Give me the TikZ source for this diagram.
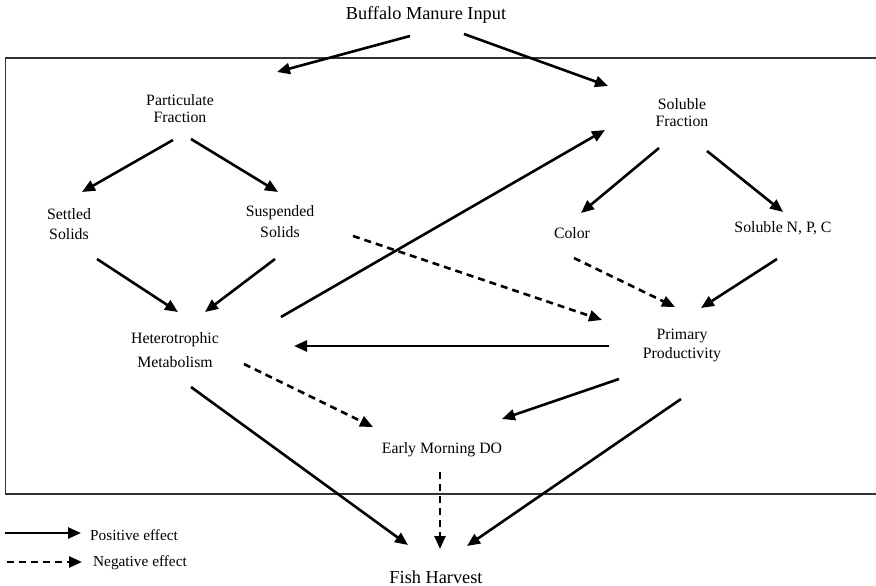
\documentclass[tikz,border=0pt]{standalone}
\usepackage{fontspec}
\setmainfont{Liberation Serif}
\usetikzlibrary{arrows.meta,calc}
\begin{document}
\begin{tikzpicture}[x=1pt,y=-1pt,
  lbl/.style={font=\fontsize{15.8}{17}\selectfont, align=center, inner sep=0pt},
  big/.style={font=\fontsize{18.3}{20}\selectfont, inner sep=0pt},
  posarrow/.style={line width=2.6pt, -{Triangle[length=13pt,width=11pt]}},
  negarrow/.style={posarrow, dash pattern=on 7pt off 5pt},
  frame/.style={draw=black!80, line width=1.3pt}]
\useasboundingbox (0,0) rectangle (876,586);
\fill[white] (0,0) rectangle (876,586);
% frame
\draw[frame] (877,58) -- (5.5,58) -- (5.5,494) -- (877,494);
% nodes
\node[big] (buf) at (426,15) {Buffalo Manure Input};
\node[lbl] (part) at (180,108.5) {Particulate\\Fraction};
\node[lbl] (sol) at (682,112.5) {Soluble\\Fraction};
\node[lbl, font=\fontsize{15.8}{20}\selectfont] (sett) at (69,224) {Settled\\Solids};
\node[lbl, font=\fontsize{15.8}{21}\selectfont] (susp) at (280,222) {Suspended\\Solids};
\node[lbl] (color) at (572,233) {Color};
\node[lbl] (npc) at (783,228) {Soluble N, P, C};
\node[lbl, font=\fontsize{15.8}{24}\selectfont] (het) at (175,350) {Heterotrophic\\Metabolism};
\node[lbl, font=\fontsize{15.8}{19}\selectfont] (prim) at (682,345.5) {Primary\\Productivity};
\node[lbl] (edo) at (442,450) {Early Morning DO};
\node[big] (fish) at (436,577) {Fish Harvest};
% connectors
\draw[posarrow] ($(buf)+(-16,21)$) -- ($(part)+(97,-36.5)$);
\draw[posarrow] ($(buf)+(38,19)$) -- ($(sol)+(-74,-26.5)$);
\draw[posarrow] ($(part)+(-7,31.5)$) -- ($(sett)+(13,-32)$);
\draw[posarrow] ($(part)+(11,30.5)$) -- ($(susp)+(-2,-30)$);
\draw[posarrow] ($(sett)+(28,35)$) -- ($(het)+(3,-38)$);
\draw[posarrow] ($(susp)+(-5,37)$) -- ($(het)+(30,-38)$);
\draw[posarrow] ($(het)+(106,-33)$) -- ($(sol)+(-77,17.5)$);
\draw[negarrow] ($(susp)+(73,14)$) -- ($(prim)+(-80,-25.5)$);
\draw[posarrow] ($(sol)+(-23,35.5)$) -- ($(color)+(9,-20)$);
\draw[posarrow] ($(sol)+(25,38.5)$) -- ($(npc)+(0,-16)$);
\draw[negarrow] ($(color)+(2,25)$) -- ($(prim)+(-7,-38.5)$);
\draw[posarrow] ($(npc)+(-6,31)$) -- ($(prim)+(19,-37.5)$);
\draw[posarrow] ($(prim)+(-73,0.5)$) -- ($(het)+(119,-4)$);
\draw[negarrow] ($(het)+(69,14)$) -- ($(edo)+(-69,-23)$);
\draw[posarrow] ($(prim)+(-63,33.5)$) -- ($(edo)+(60,-31)$);
\draw[posarrow] ($(het)+(16,37)$) -- ($(fish)+(-28,-32)$);
\draw[negarrow] ($(edo)+(-2,22)$) -- ($(fish)+(4,-28)$);
\draw[posarrow] ($(prim)+(-1,53.5)$) -- ($(fish)+(31,-31)$);
% legend
\node[lbl, anchor=west, font=\fontsize{15.3}{17}\selectfont] (lpos) at (90,535) {Positive effect};
\node[lbl, anchor=west, font=\fontsize{15.3}{17}\selectfont] (lneg) at (93,563) {Negative effect};
\coordinate (lps) at (5,533);
\coordinate (lns) at (7,562);
\draw[posarrow, shorten >=9pt] (lps) -- (lps -| lpos.west);
\draw[negarrow, shorten >=11pt] (lns) -- (lns -| lneg.west);
\end{tikzpicture}
\end{document}
